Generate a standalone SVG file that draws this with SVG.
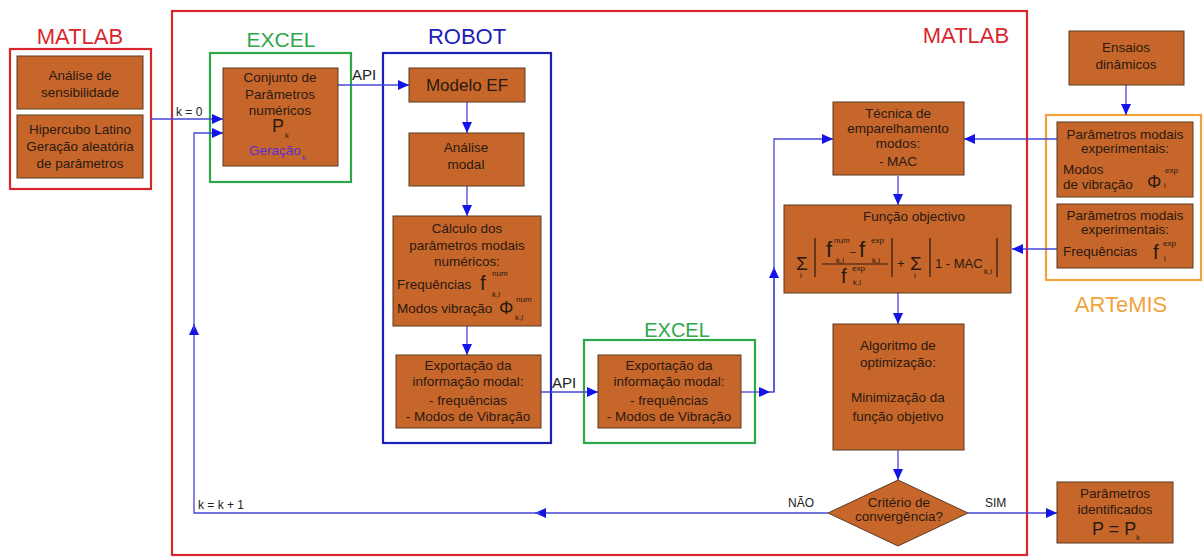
<svg xmlns="http://www.w3.org/2000/svg" width="1203" height="558" viewBox="0 0 1203 558">
<defs>
<marker id="ah" markerUnits="userSpaceOnUse" markerWidth="11" markerHeight="10" refX="11" refY="5" orient="auto"><path d="M0,0 L11,5 L0,10 z" fill="#1414e6"/></marker>
<style>
.box{fill:#c7662b;stroke:#5a3a22;stroke-width:1}
.t{font-family:"Liberation Sans",Arial,sans-serif;fill:#2a1a10;font-size:13.5px;text-anchor:middle}
.tl{font-family:"Liberation Sans",Arial,sans-serif;fill:#2a1a10;font-size:13.5px}
.s{font-family:"Liberation Sans",Arial,sans-serif;fill:#2a1a10;font-size:8px}
.big{font-family:"Liberation Sans",Arial,sans-serif;fill:#2a1a10}
.lbl{font-family:"Liberation Sans",Arial,sans-serif;text-anchor:middle}
.c{fill:none;stroke:#4747d6;stroke-width:1.3}
.ca{fill:none;stroke:#4747d6;stroke-width:1.3;marker-end:url(#ah)}
.ct{font-family:"Liberation Sans",Arial,sans-serif;fill:#222;font-size:12px}
.bar{stroke:#2a1a10;stroke-width:1.2}
</style>
</defs>
<rect width="1203" height="558" fill="#ffffff"/>

<!-- containers -->
<g id="containers" fill="none" stroke-width="2.2">
<rect x="10" y="49" width="141" height="140" stroke="#d9262c"/>
<rect x="172" y="11" width="855" height="544" stroke="#d9262c"/>
<rect x="210" y="53" width="141" height="129" stroke="#2fa84a"/>
<rect x="383" y="53" width="168" height="390" stroke="#1d1db8"/>
<rect x="584" y="340" width="171" height="103" stroke="#2fa84a"/>
<rect x="1046" y="115" width="155" height="165" stroke="#f2a23c"/>
</g>
<g id="labels">
<text class="lbl" x="80" y="44" style="font-size:22px;fill:#d9262c">MATLAB</text>
<text class="lbl" x="281" y="47" style="font-size:21px;fill:#2fa84a">EXCEL</text>
<text class="lbl" x="467" y="44" style="font-size:22px;fill:#1d1db8">ROBOT</text>
<text class="lbl" x="966" y="43" style="font-size:22px;fill:#d9262c">MATLAB</text>
<text class="lbl" x="677" y="337" style="font-size:20px;fill:#2fa84a">EXCEL</text>
<text class="lbl" x="1121" y="312" style="font-size:22px;fill:#f2a23c">ARTeMIS</text>
</g>

<!-- connectors -->
<g id="connectors">
<path class="ca" d="M151,119 H223"/>
<text class="ct" x="176" y="116">k = 0</text>
<path class="ca" d="M338,85 H409"/>
<text class="ct" x="352" y="80" style="font-size:15px">API</text>
<path class="ca" d="M467,102 V133"/>
<path class="ca" d="M467,186 V216"/>
<path class="ca" d="M467,326 V355"/>
<path class="ca" d="M541,392 H598"/>
<text class="ct" x="552" y="388" style="font-size:15px">API</text>
<path class="ca" d="M741,392 H770"/>
<path class="c" d="M768,392 H774 V270"/>
<path class="ca" d="M774,392 V267"/>
<path class="ca" d="M774,270 V139 H833"/>
<path class="ca" d="M1126,85 V115"/>
<path class="ca" d="M1057,139 H964"/>
<path class="ca" d="M1057,249 H1012"/>
<path class="ca" d="M898,176 V205"/>
<path class="ca" d="M898,293 V324"/>
<path class="ca" d="M898,450 V480"/>
<path class="ca" d="M968,513 H1057"/>
<text class="ct" x="985" y="507">SIM</text>
<path class="ca" d="M828,513 H535"/>
<path class="ca" d="M540,513 H194 V324"/>
<path class="ca" d="M194,330 V133 H223"/>
<text class="ct" x="788" y="507">NÃO</text>
<text class="ct" x="198" y="509">k = k + 1</text>
</g>

<!-- nodes -->
<g id="n-sens"><rect class="box" x="17" y="56" width="126" height="53"/>
<text class="t" x="80" y="80">Análise de</text><text class="t" x="80" y="97">sensibilidade</text></g>

<g id="n-hiper"><rect class="box" x="17" y="115" width="126" height="63"/>
<text class="t" x="80" y="134">Hipercubo Latino</text><text class="t" x="80" y="151">Geração aleatória</text><text class="t" x="80" y="168">de parâmetros</text></g>

<g id="n-conj"><rect class="box" x="223" y="68" width="115" height="98"/>
<text class="t" x="280" y="82">Conjunto de</text><text class="t" x="280" y="99">Parâmetros</text><text class="t" x="280" y="115">numéricos</text>
<text class="big" x="272" y="132" style="font-size:18px">P</text><text class="s" x="285" y="138">k</text>
<text class="big" x="249" y="155" style="font-size:13.5px;fill:#5a2fd0">Geração</text><text class="s" x="302" y="160" style="fill:#5a2fd0">k</text></g>

<g id="n-modelo"><rect class="box" x="409" y="68" width="116" height="34"/>
<text class="t" x="467" y="91" style="font-size:17px">Modelo EF</text></g>

<g id="n-analise"><rect class="box" x="409" y="133" width="115" height="53"/>
<text class="t" x="466" y="152">Análise</text><text class="t" x="466" y="169">modal</text></g>

<g id="n-calculo"><rect class="box" x="393" y="216" width="148" height="110"/>
<text class="t" x="467" y="233">Cálculo dos</text><text class="t" x="467" y="250">parâmetros modais</text><text class="t" x="467" y="266">numéricos:</text>
<text class="tl" x="397" y="289">Frequências</text>
<text class="big" x="480" y="290" style="font-size:20px">f</text><text class="s" x="492" y="276">num</text><text class="s" x="492" y="297">k,l</text>
<text class="tl" x="397" y="313">Modos vibração</text>
<text class="big" x="499" y="314" style="font-size:18px">Φ</text><text class="s" x="516" y="302">num</text><text class="s" x="515" y="320">k,i</text></g>

<g id="n-export1"><rect class="box" x="396" y="355" width="145" height="73"/>
<text class="t" x="468" y="370">Exportação da</text><text class="t" x="468" y="386">informação modal:</text><text class="t" x="468" y="405">- frequências</text><text class="t" x="468" y="421">- Modos de Vibração</text></g>

<g id="n-export2"><rect class="box" x="598" y="355" width="143" height="73"/>
<text class="t" x="669" y="370">Exportação da</text><text class="t" x="669" y="386">informação modal:</text><text class="t" x="669" y="405">- frequências</text><text class="t" x="669" y="421">- Modos de Vibração</text></g>

<g id="n-tecnica"><rect class="box" x="833" y="102" width="131" height="73"/>
<text class="t" x="898" y="118">Técnica de</text><text class="t" x="898" y="133">emparelhamento</text><text class="t" x="898" y="148">modos:</text><text class="t" x="898" y="166">- MAC</text></g>

<g id="n-funcao"><rect class="box" x="784" y="205" width="227" height="88"/>
<text class="t" x="914" y="221">Função objectivo</text>
<text class="big" x="796" y="270" style="font-size:19px">Σ</text><text class="s" x="800" y="278">i</text>
<line class="bar" x1="815" y1="238" x2="815" y2="277"/>
<text class="big" x="826" y="257" style="font-size:22px">f</text><text class="s" x="834" y="243">num</text><text class="s" x="836" y="263">k,i</text>
<text class="big" x="850" y="255" style="font-size:11px">–</text>
<text class="big" x="859" y="257" style="font-size:22px">f</text><text class="s" x="871" y="243">exp</text><text class="s" x="872" y="263">k,i</text>
<line class="bar" x1="822" y1="264" x2="888" y2="264"/>
<text class="big" x="841" y="283" style="font-size:20px">f</text><text class="s" x="852" y="271">exp</text><text class="s" x="853" y="285">k,i</text>
<line class="bar" x1="892" y1="238" x2="892" y2="277"/>
<text class="big" x="897" y="268" style="font-size:13px">+</text>
<text class="big" x="910" y="270" style="font-size:19px">Σ</text><text class="s" x="914" y="278">i</text>
<line class="bar" x1="930" y1="238" x2="930" y2="277"/>
<text class="big" x="935" y="268" style="font-size:13px">1 - MAC</text><text class="s" x="984" y="274">k,i</text>
<line class="bar" x1="997" y1="238" x2="997" y2="277"/></g>

<g id="n-algoritmo"><rect class="box" x="833" y="324" width="131" height="126"/>
<text class="t" x="898" y="350">Algoritmo de</text><text class="t" x="898" y="367">optimização:</text><text class="t" x="898" y="402">Minimização da</text><text class="t" x="898" y="421">função objetivo</text></g>

<g id="n-criterio"><polygon class="box" points="898,480 968,513 898,546 828,513"/>
<text class="t" x="899" y="507">Critério de</text><text class="t" x="899" y="521">convergência?</text></g>

<g id="n-param"><rect class="box" x="1057" y="482" width="116" height="61"/>
<text class="t" x="1115" y="498">Parâmetros</text><text class="t" x="1115" y="514">identificados</text>
<text class="big" x="1092" y="535" style="font-size:18px">P = P</text><text class="s" x="1136" y="540">k</text></g>

<g id="n-ensaios"><rect class="box" x="1069" y="31" width="115" height="54"/>
<text class="t" x="1126" y="52">Ensaios</text><text class="t" x="1126" y="69">dinâmicos</text></g>

<g id="n-exp1"><rect class="box" x="1057" y="122" width="136" height="75"/>
<text class="t" x="1125" y="139">Parâmetros modais</text><text class="t" x="1125" y="153">experimentais:</text>
<text class="tl" x="1063" y="174">Modos</text><text class="tl" x="1063" y="189">de vibração</text>
<text class="big" x="1147" y="188" style="font-size:18px">Φ</text><text class="s" x="1165" y="173">exp</text><text class="s" x="1164" y="188">i</text></g>

<g id="n-exp2"><rect class="box" x="1057" y="204" width="136" height="64"/>
<text class="t" x="1125" y="220">Parâmetros modais</text><text class="t" x="1125" y="234">experimentais:</text>
<text class="tl" x="1063" y="256">Frequências</text>
<text class="big" x="1153" y="259" style="font-size:20px">f</text><text class="s" x="1163" y="246">exp</text><text class="s" x="1164" y="261">i</text></g>
</svg>
